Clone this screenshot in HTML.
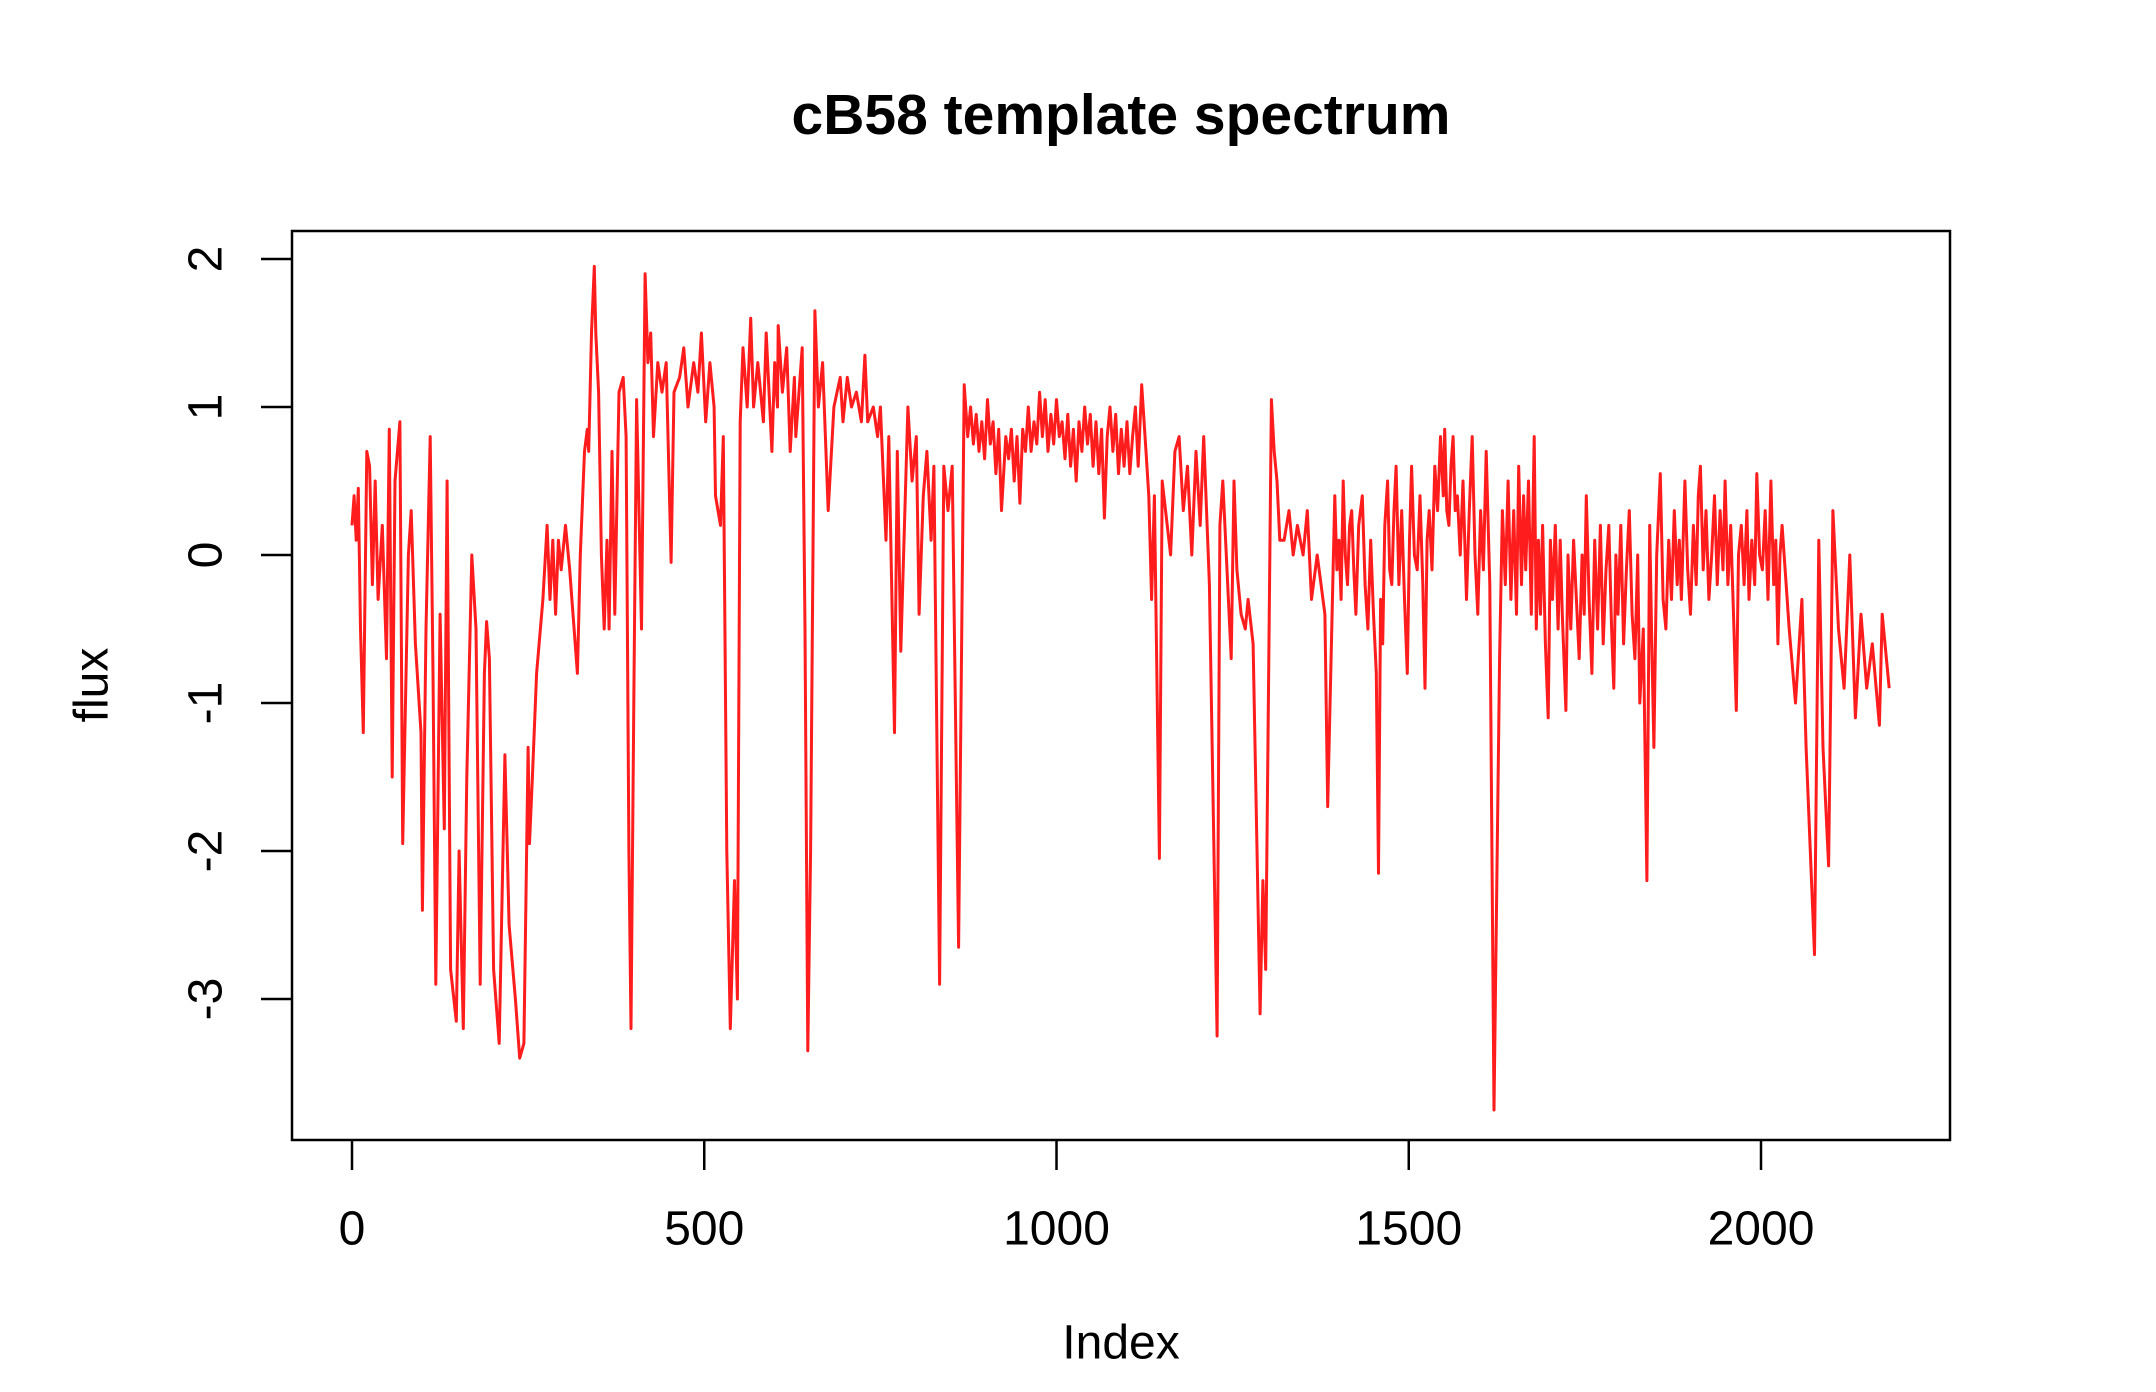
<!DOCTYPE html>
<html><head><meta charset="utf-8"><style>
html,body{margin:0;padding:0;background:#fff;}
svg{display:block;font-family:"Liberation Sans",Arial,sans-serif;}
</style></head><body>
<svg id="chart" width="2156" height="1392" viewBox="0 0 2156 1392" xmlns="http://www.w3.org/2000/svg">
<rect width="2156" height="1392" fill="#fff"/>
<text x="1121" y="115" font-size="57" font-weight="bold" text-anchor="middle" dominant-baseline="central">cB58 template spectrum</text>
<rect x="292" y="231" width="1658" height="909" fill="none" stroke="#000" stroke-width="2.5"/>
<g id="xaxis"></g>
<g id="yaxis"></g>
<text x="1121" y="1343" font-size="48" text-anchor="middle" dominant-baseline="central">Index</text>
<text transform="translate(92,685) rotate(-90)" font-size="48" text-anchor="middle" dominant-baseline="central">flux</text>
<path id="series" fill="none" stroke="#ff1c1c" stroke-width="3" stroke-linejoin="round"/>
</svg>
<script>
const xTicks = [0, 500, 1000, 1500, 2000];
const yTicks = [-3, -2, -1, 0, 1, 2];
const indexVals = [
0,3,6,9,12,16,21,25,29,33,37,43,49,53,57,61,68,72,80,84,90,98,100,105,111,115,119,125,131,135,140,148,152,158,163,170,176,182,188,191,195,201,209,217,223,232,238,244,250,252,256,262,271,277,281,285,289,293,297,303,309,320,324,330,334,336,340,344,346,350,354,358,362,365,369,373,379,385,389,393,396,400,404,411,416,420,424,428,434,440,446,453,457,465,471,477,485,491,496,502,508,514,516,523,527,532,537,543,547,551,555,561,566,570,576,584,588,596,600,604,605,611,617,622,628,630,639,643,647,651,657,662,668,676,684,693,697,703,709,716,723,728,732,740,746,750,758,762,770,774,779,789,795,801,805,811,816,822,826,834,840,846,852,861,
869,874,878,882,886,890,894,898,902,906,910,914,918,922,928,932,936,940,944,948,952,956,960,964,968,972,976,980,984,988,992,996,1000,1004,1008,1012,1016,1020,1024,1028,1032,1036,1040,1044,1048,1052,1056,1060,1064,1068,1072,1076,1080,1084,1088,1092,1096,1100,1104,1108,1112,1116,1121,
1127,1131,1135,1139,1146,1150,1162,1168,1174,1180,1186,1192,1198,1204,1209,1217,1228,1232,1236,1248,1252,1256,1262,1268,1272,1279,1289,1293,1297,1305,1309,1313,1317,1323,1330,1336,1342,1350,1356,1362,1370,1381,1385,
1395,1398,1401,1404,1407,1410,1413,1416,1419,1422,1425,1429,1434,1438,1442,1446,1450,1454,1457,1460,1463,1466,1470,1473,1476,1479,1482,1486,1490,1494,1498,1501,1504,1508,1512,1516,1520,1523,1526,1529,1533,1537,1541,1545,1549,1551,1554,1557,1560,1563,1566,1569,1573,1577,1582,1586,1590,1594,1598,1602,1606,1610,1615,1621,
1629,1633,1637,1641,1645,1649,1653,1656,1660,1663,1666,1670,1674,1678,1681,1684,1687,1690,1694,1698,1701,1704,1708,1712,1715,1718,1723,1726,1730,1734,1738,1742,1746,1749,1752,1756,1760,1764,1768,1772,1776,1780,1784,1788,1791,1794,1797,1801,1805,1809,1813,1817,1821,1825,1828,1833,1838,
1842,1845,1848,1852,1857,1861,1865,1869,1873,1877,1881,1884,1887,1892,1896,1900,1904,1908,1911,1914,1918,1922,1926,1930,1934,1938,1942,1946,1949,1953,1957,1961,1965,1968,1972,1976,1980,1983,1987,1991,1994,1998,2002,2006,2010,2014,2018,2021,2024,2027,2030,
2040,2049,2058,2064,2076,2082,2088,2096,2102,2110,2118,2126,2134,2142,2150,2158,2168,2172,2182];
const fluxVals = [
0.2,0.4,0.1,0.45,-0.5,-1.2,0.7,0.6,-0.2,0.5,-0.3,0.2,-0.7,0.85,-1.5,0.5,0.9,-1.95,0.0,0.3,-0.6,-1.2,-2.4,-0.5,0.8,-0.8,-2.9,-0.4,-1.85,0.5,-2.8,-3.15,-2.0,-3.2,-1.5,0.0,-0.5,-2.9,-0.8,-0.45,-0.7,-2.8,-3.3,-1.35,-2.5,-3.0,-3.4,-3.3,-1.3,-1.95,-1.5,-0.8,-0.3,0.2,-0.3,0.1,-0.4,0.1,-0.1,0.2,-0.1,-0.8,0.0,0.7,0.85,0.7,1.5,1.95,1.5,1.1,0.0,-0.5,0.1,-0.5,0.7,-0.4,1.1,1.2,0.8,-2.0,-3.2,-1.0,1.05,-0.5,1.9,1.3,1.5,0.8,1.3,1.1,1.3,-0.05,1.1,1.2,1.4,1.0,1.3,1.1,1.5,0.9,1.3,1.0,0.4,0.2,0.8,-2.0,-3.2,-2.2,-3.0,0.9,1.4,1.0,1.6,1.0,1.3,0.9,1.5,0.7,1.3,1.0,1.55,1.1,1.4,0.7,1.2,0.8,1.4,-0.5,-3.35,-2.0,1.65,1.0,1.3,0.3,1.0,1.2,0.9,1.2,1.0,1.1,0.9,1.35,0.9,1.0,0.8,1.0,0.1,0.8,-1.2,0.7,-0.65,1.0,0.5,0.8,-0.4,0.4,0.7,0.1,0.6,-2.9,0.6,0.3,0.6,-2.65,
1.15,0.8,1.0,0.75,0.95,0.7,0.9,0.65,1.05,0.75,0.9,0.55,0.85,0.3,0.8,0.65,0.85,0.5,0.8,0.35,0.85,0.7,1.0,0.7,0.9,0.75,1.1,0.8,1.05,0.7,0.95,0.75,1.05,0.8,0.9,0.65,0.95,0.6,0.85,0.5,0.9,0.7,1.0,0.75,0.95,0.6,0.9,0.55,0.85,0.25,0.8,1.0,0.7,0.95,0.55,0.85,0.6,0.9,0.55,0.8,1.0,0.6,1.15,
0.7,0.4,-0.3,0.4,-2.05,0.5,0.0,0.7,0.8,0.3,0.6,0.0,0.7,0.2,0.8,-0.2,-3.25,0.2,0.5,-0.7,0.5,-0.1,-0.4,-0.5,-0.3,-0.6,-3.1,-2.2,-2.8,1.05,0.7,0.5,0.1,0.1,0.3,0.0,0.2,0.0,0.3,-0.3,0.0,-0.4,-1.7,
0.4,-0.1,0.1,-0.3,0.5,0.0,-0.2,0.2,0.3,-0.1,-0.4,0.2,0.4,-0.2,-0.5,0.1,-0.4,-0.8,-2.15,-0.3,-0.6,0.2,0.5,-0.1,-0.2,0.3,0.6,-0.2,0.3,-0.3,-0.8,0.1,0.6,0.0,-0.1,0.4,-0.2,-0.9,0.1,0.3,-0.1,0.6,0.3,0.8,0.4,0.85,0.3,0.2,0.6,0.8,0.3,0.4,0.0,0.5,-0.3,0.3,0.8,0.0,-0.4,0.3,-0.1,0.7,-0.2,-3.75,
-0.7,0.3,-0.2,0.5,-0.3,0.3,-0.4,0.6,-0.2,0.4,-0.1,0.5,-0.4,0.8,-0.5,0.1,-0.4,0.2,-0.6,-1.1,0.1,-0.3,0.2,-0.5,0.1,-0.4,-1.05,0.0,-0.5,0.1,-0.3,-0.7,0.0,-0.4,0.4,-0.3,-0.8,0.1,-0.5,0.2,-0.6,-0.1,0.2,-0.5,-0.9,0.0,-0.4,0.2,-0.6,-0.1,0.3,-0.4,-0.7,0.0,-1.0,-0.5,-2.2,
0.2,-0.6,-1.3,0.0,0.55,-0.3,-0.5,0.1,-0.3,0.3,-0.2,0.1,-0.3,0.5,-0.1,-0.4,0.2,-0.2,0.4,0.6,-0.1,0.3,-0.3,0.0,0.4,-0.2,0.3,-0.1,0.5,-0.2,0.2,-0.4,-1.05,0.0,0.2,-0.2,0.3,-0.3,0.1,-0.2,0.55,0.0,-0.1,0.3,-0.3,0.5,-0.2,0.1,-0.6,0.0,0.2,
-0.5,-1.0,-0.3,-1.3,-2.7,0.1,-1.3,-2.1,0.3,-0.5,-0.9,0.0,-1.1,-0.4,-0.9,-0.6,-1.15,-0.4,-0.9];

const NS = 'http://www.w3.org/2000/svg';
function xScale(v){ return 352 + v * (1761 - 352) / 2000; }
function yScale(v){ return 555 - v * 148; }

const xg = document.getElementById('xaxis');
xTicks.forEach(t => {
  const l = document.createElementNS(NS, 'line');
  
  
  l.setAttribute('x1', xScale(t)); l.setAttribute('x2', xScale(t));
  l.setAttribute('y1', 1140); l.setAttribute('y2', 1170);
  l.setAttribute('stroke', '#000'); l.setAttribute('stroke-width', '2.5');
  xg.appendChild(l);
  const tx = document.createElementNS(NS, 'text');
  
  
  tx.setAttribute('x', xScale(t)); tx.setAttribute('y', 1229);
  tx.setAttribute('font-size', '48'); tx.setAttribute('text-anchor', 'middle');
  tx.setAttribute('dominant-baseline', 'central');
  tx.textContent = String(t);
  xg.appendChild(tx);
});
const yg = document.getElementById('yaxis');
yTicks.forEach(t => {
  const l = document.createElementNS(NS, 'line');
  
  
  l.setAttribute('x1', 261); l.setAttribute('x2', 292);
  l.setAttribute('y1', yScale(t)); l.setAttribute('y2', yScale(t));
  l.setAttribute('stroke', '#000'); l.setAttribute('stroke-width', '2.5');
  yg.appendChild(l);
  const tx = document.createElementNS(NS, 'text');
  
  
  tx.setAttribute('transform', 'translate(206,' + yScale(t) + ') rotate(-90)');
  tx.setAttribute('font-size', '48'); tx.setAttribute('text-anchor', 'middle');
  tx.setAttribute('dominant-baseline', 'central');
  tx.textContent = String(t);
  yg.appendChild(tx);
});
let d = '';
const n = Math.min(indexVals.length, fluxVals.length);
for (let i = 0; i < n; i++) {
  d += (i ? 'L' : 'M') + xScale(indexVals[i]).toFixed(1) + ',' + yScale(fluxVals[i]).toFixed(1);
}
document.getElementById('series').setAttribute('d', d);
</script>
</body></html>
